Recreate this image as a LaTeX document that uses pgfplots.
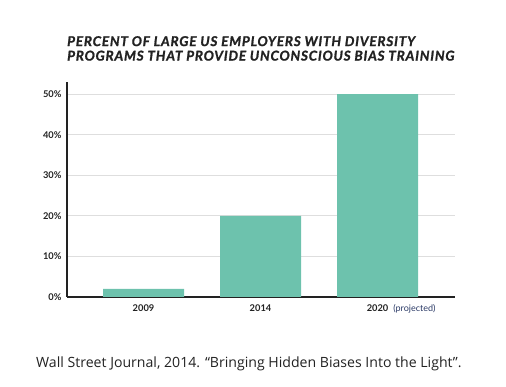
\documentclass[border=0pt]{standalone}
\usepackage{pgfplots}
\pgfplotsset{compat=1.18}
\usepackage{fontspec}
\setmainfont{Lato}
\newfontfamily\capfont{Open Sans}
\newfontfamily\titlefont[LetterSpace=6, BoldItalicFeatures={FakeBold=1.2}]{Lato}
\definecolor{bar}{HTML}{6DC2AD}
\definecolor{txt}{HTML}{222222}
\definecolor{proj}{HTML}{2B3A66}
\begin{document}
\begin{tikzpicture}[x=1pt,y=1pt]
\path[use as bounding box] (0,0) rectangle (506,-387);
\node[anchor=north west, align=left, inner sep=0pt, text=txt, font=\titlefont\bfseries\itshape\fontsize{13.5}{14.5}\selectfont] at (67,-36) {PERCENT OF LARGE US EMPLOYERS WITH DIVERSITY\\PROGRAMS THAT PROVIDE UNCONSCIOUS BIAS TRAINING};
\begin{axis}[
  at={(67pt,-297pt)}, anchor=south west,
  scale only axis, width=388pt, height=215pt,
  xmin=-0.654, xmax=2.662, ymin=0, ymax=53,
  axis x line*=bottom, axis y line*=left,
  axis line style={color=txt, line width=1.2pt},
  ytick={0,10,20,30,40,50},
  yticklabel={\pgfmathprintnumber{\tick}\%},
  xtick={0,1,2},
  xticklabels={2009,2014,{2020\rlap{\hspace{5pt}\normalfont\fontsize{9}{10}\selectfont\color{proj}(projected)}}},
  major tick length=0pt,
  ymajorgrids, grid style={color=black!13, line width=0.8pt},
  tick label style={font=\bfseries\fontsize{9.3}{10}\selectfont, text=txt},
  /pgf/number format/assume math mode=true,
  yticklabel style={xshift=-2pt},
  xticklabel style={yshift=-4pt},
  ybar, bar width=0.692, bar shift=0pt,
]
\addplot[fill=bar, draw=none] coordinates {(0,2) (1,20) (2,50)};
\end{axis}
\node[anchor=base west, inner sep=0pt, text=txt, font=\capfont\fontsize{14.1}{16}\selectfont] at (36,-367) {Wall Street Journal, 2014. “Bringing Hidden Biases Into the Light”.};
\end{tikzpicture}
\end{document}
